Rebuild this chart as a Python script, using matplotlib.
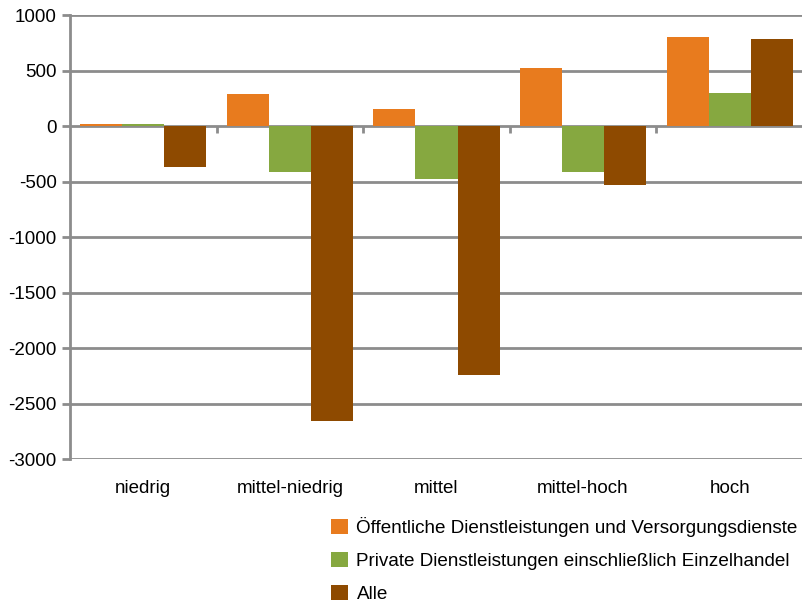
import matplotlib.pyplot as plt
import numpy as np

plt.rcParams['font.family'] = ['Liberation Sans', 'DejaVu Sans']
plt.rcParams['axes.unicode_minus'] = False

categories = ['niedrig', 'mittel-niedrig', 'mittel', 'mittel-hoch', 'hoch']
oeffentlich = [15, 290, 150, 520, 800]
privat = [15, -410, -480, -410, 300]
alle = [-370, -2660, -2240, -530, 780]

series = [
    ('Öffentliche Dienstleistungen und Versorgungsdienste', oeffentlich, '#E87B1E'),
    ('Private Dienstleistungen einschließlich Einzelhandel', privat, '#86A840'),
    ('Alle', alle, '#8E4A00'),
]

fig = plt.figure(figsize=(8.03, 6.02), dpi=100)
ax = fig.add_axes([70 / 803, 1 - 459 / 602, 733 / 803, 444 / 602])

x = np.arange(len(categories))
w = 0.287
for i, (name, vals, col) in enumerate(series):
    ax.bar(x + (i - 1) * w, vals, w, color=col, label=name, zorder=3)

ax.set_xlim(-0.5, len(categories) - 0.5)
ax.set_ylim(-3000, 1000)
ax.set_yticks(np.arange(-3000, 1001, 500))
ax.grid(axis='y', color='#8c8c8c', linewidth=2, zorder=0)
ax.set_axisbelow(True)

for s in ['top', 'right', 'bottom']:
    ax.spines[s].set_visible(False)
ax.spines['left'].set_color('#8c8c8c')
ax.spines['left'].set_linewidth(2)

ax.set_xticks(x)
ax.set_xticklabels(categories, fontsize=13.5)
ax.tick_params(axis='x', length=0, pad=15)
ax.tick_params(axis='y', labelsize=13.5, color='#8c8c8c', width=2, length=6)

# small tick marks hanging below the zero line between categories
sec = ax.secondary_xaxis(0.75)
sec.set_xticks(np.arange(0.5, len(categories), 1))
sec.set_xticklabels([])
sec.tick_params(length=5, width=2, color='#8c8c8c', direction='in')
sec.spines['top'].set_visible(False)
sec.spines['bottom'].set_visible(False)

handles, labels = ax.get_legend_handles_labels()
fig.legend(handles, labels, loc='lower left', bbox_to_anchor=(314 / 803, -0.03),
           frameon=False, fontsize=13.6, handlelength=0.9, handleheight=0.9,
           handletextpad=0.45, labelspacing=0.78)

fig.savefig('out.png', dpi=100)
